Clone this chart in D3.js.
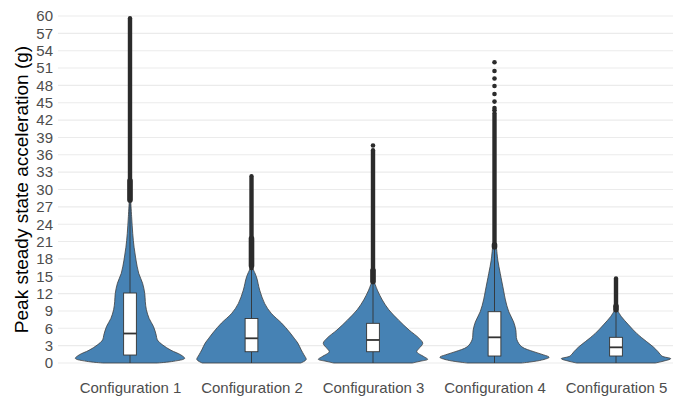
<!DOCTYPE html>
<html>
<head>
<meta charset="utf-8">
<script src="https://cdn.jsdelivr.net/npm/d3@7"></script>
<style>
  html, body { margin: 0; padding: 0; background: #fff; }
  svg { display: block; }
</style>
</head>
<body>
<svg id="chart" width="678" height="401"></svg>
<script>
// ---------------- data ----------------
const categories = ["Configuration 1", "Configuration 2", "Configuration 3", "Configuration 4", "Configuration 5"];
const yTicks = [0, 3, 6, 9, 12, 15, 18, 21, 24, 27, 30, 33, 36, 39, 42, 45, 48, 51, 54, 57, 60];

// violin density profiles: [value, relative width]
const violin1 = [[0,0.5],[0.3,0.8],[0.8,1.0],[1.4,0.93],[2.2,0.75],[3.1,0.6],[4.0,0.5],[4.8,0.48],[6.3,0.43],[7.7,0.35],[9.2,0.3],[10.6,0.28],[12.0,0.27],[13.8,0.23],[15.5,0.16],[17.8,0.11],[20.0,0.075],[22.4,0.05],[25.3,0.03],[28.2,0.012]];
const violin2 = [[0,0.9],[0.6,1.0],[1.4,0.96],[2.25,0.91],[3.4,0.85],[4.3,0.78],[5.4,0.69],[6.9,0.55],[8.6,0.36],[10.3,0.24],[12.6,0.15],[14.9,0.09],[16.4,0.02]];
const violin3 = [[0,0.72],[0.3,0.86],[0.64,1.0],[1.1,0.93],[1.95,0.8],[2.5,0.84],[3.4,0.91],[4.3,0.84],[5.7,0.66],[7.4,0.47],[9.2,0.29],[10.9,0.17],[12.6,0.08],[14.1,0.02]];
const violin4 = [[0,0.5],[0.5,0.86],[1.0,1.0],[1.4,0.9],[1.95,0.72],[2.8,0.5],[4.0,0.41],[5.7,0.39],[7.1,0.35],[8.9,0.26],[10.9,0.2],[12.6,0.165],[15.5,0.105],[17.8,0.06],[20.1,0.035]];
const violin5 = [[0,0.72],[0.3,0.86],[0.75,1.0],[1.2,0.84],[1.95,0.77],[2.8,0.68],[3.7,0.56],[5.1,0.38],[6.6,0.23],[8.0,0.1],[9.2,0.02]];
const violins = [violin1, violin2, violin3, violin4, violin5];

// box plot statistics
const whiskerLow  = [0, 0, 0, 0, 0];
const q1          = [1.38, 1.95, 1.95, 1.21, 1.21];
const median      = [5.1, 4.27, 3.98, 4.44, 2.71];
const q3          = [12.1, 7.7, 6.86, 8.87, 4.44];
const whiskerHigh = [28.2, 16.4, 14.1, 20.1, 9.2];

// outliers: dense runs (overlapping points) and separate points
const outlierRunStart = [28.2, 16.4, 14.1, 20.1, 9.2];
const outlierRunEnd   = [59.6, 32.3, 36.8, 43.2, 14.6];
const denseBlobStart  = [28.2, 16.8, 14.1, 20.1, 9.2];
const denseBlobEnd    = [31.5, 21.5, 16.0, 20.4, 9.8];
const outlierPoints = [[], [], [37.6], [43.7, 44.1, 45.2, 46.5, 47.9, 49.2, 50.5, 52.0], []];

// ---------------- chart ----------------
const svg = d3.select("#chart");
const panelLeft = 58, panelRight = 673;

const x = d3.scalePoint().domain(categories).range([130, 616]);
const step = x.step();
const y = d3.scaleLinear().domain([0, 60]).range([363, 16]);

const textColor = "#4d4d4d";
const font = "'Liberation Sans', Arial, Helvetica, sans-serif";

// gridlines
svg.append("g").selectAll("line").data(yTicks).join("line")
  .attr("x1", panelLeft).attr("x2", panelRight)
  .attr("y1", d => y(d)).attr("y2", d => y(d))
  .attr("stroke", "#ebebeb").attr("stroke-width", 1.1);

// y axis (labels only)
const yAxis = d3.axisLeft(y).tickValues(yTicks).tickSize(0).tickPadding(0);
const yg = svg.append("g").attr("transform", `translate(53,0)`).call(yAxis);
yg.select(".domain").remove();
yg.selectAll("text").attr("fill", textColor).style("font-family", font).style("font-size", "15px");

// x axis (labels only)
const xAxis = d3.axisBottom(x).tickSize(0).tickPadding(0);
const xg = svg.append("g").attr("transform", `translate(0,382)`).call(xAxis);
xg.select(".domain").remove();
xg.selectAll("text").attr("fill", textColor).style("font-family", font).style("font-size", "15px");

// y title
svg.append("text")
  .attr("transform", `translate(28,${(y(0) + y(60)) / 2}) rotate(-90)`)
  .attr("text-anchor", "middle")
  .style("font-family", font).style("font-size", "19px")
  .attr("fill", "#000")
  .text("Peak steady state acceleration (g)");

const halfMax = step * 0.9 / 2;
const boxHalf = step * 0.1 / 2 + 0.3;

// violins
categories.forEach((cat, i) => {
  const cx = x(cat);
  const area = d3.area()
    .y(d => y(d[0]))
    .x0(d => cx - d[1] * halfMax)
    .x1(d => cx + d[1] * halfMax)
    .curve(d3.curveCatmullRom.alpha(0.5));
  svg.append("path")
    .attr("d", area(violins[i]))
    .attr("fill", "#4682b4")
    .attr("stroke", "#3d3d3d")
    .attr("stroke-width", 0.8);
});

// box plots
const gBox = svg.append("g");
categories.forEach((cat, i) => {
  const cx = x(cat);
  gBox.append("line").attr("x1", cx).attr("x2", cx)
    .attr("y1", y(whiskerLow[i])).attr("y2", y(q1[i]))
    .attr("stroke", "#333").attr("stroke-width", 0.9);
  gBox.append("line").attr("x1", cx).attr("x2", cx)
    .attr("y1", y(q3[i])).attr("y2", y(whiskerHigh[i]))
    .attr("stroke", "#333").attr("stroke-width", 0.9);
  // dense outlier runs
  gBox.append("line").attr("x1", cx).attr("x2", cx)
    .attr("y1", y(outlierRunStart[i])).attr("y2", y(outlierRunEnd[i]))
    .attr("stroke", "#2b2b2b").attr("stroke-width", 4.4).attr("stroke-linecap", "round");
  gBox.append("line").attr("x1", cx).attr("x2", cx)
    .attr("y1", y(denseBlobStart[i])).attr("y2", y(denseBlobEnd[i]))
    .attr("stroke", "#2b2b2b").attr("stroke-width", 5.6).attr("stroke-linecap", "round");
  gBox.selectAll(null).data(outlierPoints[i]).join("circle")
    .attr("cx", cx).attr("cy", d => y(d)).attr("r", 2.3)
    .attr("fill", "#2b2b2b");
  gBox.append("rect")
    .attr("x", cx - boxHalf).attr("width", boxHalf * 2)
    .attr("y", y(q3[i])).attr("height", y(q1[i]) - y(q3[i]))
    .attr("fill", "#fff").attr("stroke", "#333").attr("stroke-width", 0.9);
  gBox.append("line")
    .attr("x1", cx - boxHalf).attr("x2", cx + boxHalf)
    .attr("y1", y(median[i])).attr("y2", y(median[i]))
    .attr("stroke", "#333").attr("stroke-width", 1.8);
});
</script>
</body>
</html>
